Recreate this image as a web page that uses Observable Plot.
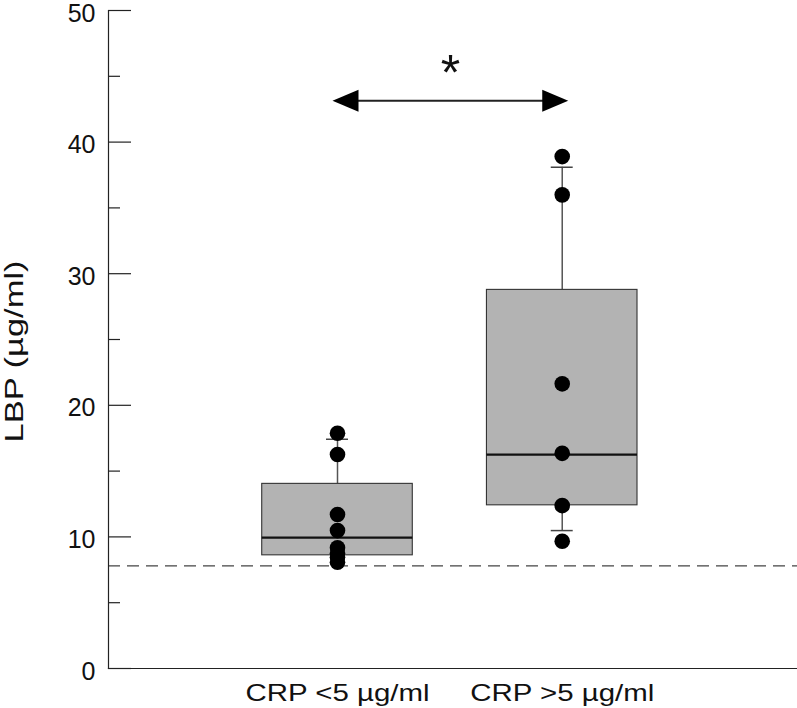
<!DOCTYPE html>
<html>
<head>
<meta charset="utf-8">
<script src="https://cdn.jsdelivr.net/npm/d3@7"></script>
<script src="https://cdn.jsdelivr.net/npm/@observablehq/plot@0.6"></script>
<style>
  html, body { margin: 0; padding: 0; background: #fff; }
  #chart svg { display: block; }
</style>
</head>
<body>
<div id="chart"></div>
<script>
// ---- data ----
const groups = ["CRP <5 µg/ml", "CRP >5 µg/ml"];
const q1 = [8.6, 12.4];
const medians = [9.95, 16.25];
const q3 = [14.03, 28.77];
const whiskerLow = [null, 10.48];
const whiskerHigh = [17.42, 38.09];
const valuesLow = [17.88, 16.26, 11.7, 10.48, 9.17, 8.76, 8.46, 8.08];
const valuesHigh = [38.9, 35.99, 21.63, 16.35, 12.38, 9.67];
const normalLimit = 7.8;
const significanceLevel = 43.15;
const starLevel = 45.15;
const starText = "*";
const yLabel = "LBP (µg/ml)";
const majorTicks = [0, 10, 20, 30, 40, 50];
const minorTicks = [5, 15, 25, 35, 45];

// ---- tables built from arrays ----
const boxes = groups.map((g, i) => ({group: g, q1: q1[i], median: medians[i], q3: q3[i], lo: whiskerLow[i], hi: whiskerHigh[i]}));
const points = [
  ...valuesLow.map(v => ({group: groups[0], value: v})),
  ...valuesHigh.map(v => ({group: groups[1], value: v}))
];
const comparison = [{from: groups[0], to: groups[1], level: significanceLevel}];

// arrowhead symbols (tip at origin)
const headRight = {draw(c) { c.moveTo(0, 0); c.lineTo(-26, -11); c.lineTo(-26, 11); c.closePath(); }};
const headLeft = {draw(c) { c.moveTo(0, 0); c.lineTo(26, -11); c.lineTo(26, 11); c.closePath(); }};

const W = 797, H = 708;
const mL = 108, mR = 0, mT = 10, mB = 40;
const plotW = W - mL - mR;

const chart = Plot.plot({
  width: W,
  height: H,
  marginLeft: mL,
  marginRight: mR,
  marginTop: mT,
  marginBottom: mB,
  style: {fontFamily: "'Liberation Sans', Arial, Helvetica, sans-serif", fontSize: "24px", color: "#111", background: "#fff", overflow: "visible"},
  x: {type: "band", domain: groups, paddingInner: 0.33, paddingOuter: 0.698, align: 0.49, round: false, axis: null},
  y: {domain: [0, 50], axis: null},
  marks: [
    // reference (dashed) line
    Plot.ruleY([normalLimit], {stroke: "#444", strokeWidth: 1.4, strokeDasharray: "12,7"}),
    // whiskers
    Plot.ruleX(boxes, {x: "group", y1: "q3", y2: "hi", stroke: "#555", strokeWidth: 1.5}),
    Plot.ruleX(boxes.filter(d => d.lo != null), {x: "group", y1: "lo", y2: "q1", stroke: "#555", strokeWidth: 1.5}),
    Plot.tickY(boxes, {x: "group", y: "hi", insetLeft: 64.3, insetRight: 64.3, stroke: "#444", strokeWidth: 1.5}),
    Plot.tickY(boxes.filter(d => d.lo != null), {x: "group", y: "lo", insetLeft: 64.3, insetRight: 64.3, stroke: "#444", strokeWidth: 1.5}),
    // boxes
    Plot.barY(boxes, {x: "group", y1: "q1", y2: "q3", fill: "#b3b3b3", stroke: "#333", strokeWidth: 1.1}),
    Plot.tickY(boxes, {x: "group", y: "median", stroke: "#111", strokeWidth: 2.2}),
    // individual values
    Plot.dot(points, {x: "group", y: "value", r: 7.8, fill: "#000", stroke: "none"}),
    // significance arrow
    Plot.link(comparison, {x1: "from", x2: "to", y1: "level", y2: "level", stroke: "#222", strokeWidth: 2}),
    Plot.dot(comparison, {x: "from", y: "level", symbol: headLeft, fill: "#000", stroke: "none", dx: -5}),
    Plot.dot(comparison, {x: "to", y: "level", symbol: headRight, fill: "#000", stroke: "none", dx: 6}),
    Plot.text([starText], {y: () => starLevel, text: d => d, fontSize: 50, dx: -2.5, fill: "#111"}),
    // axes
    Plot.ruleY(majorTicks, {insetRight: plotW - 23, stroke: "#222", strokeWidth: 1.2}),
    Plot.ruleY(minorTicks, {insetRight: plotW - 12, stroke: "#222", strokeWidth: 1.2}),
    Plot.axisY(majorTicks, {tickSize: 0, tickPadding: 13, fontSize: 25, dy: 3, label: null}),
    Plot.text([yLabel], {frameAnchor: "left", text: d => d, rotate: -90, dx: -103, dy: 12, lineAnchor: "top", textAnchor: "middle", fontSize: 25, fill: "#111"}),
    Plot.axisX({tickSize: 0, tickPadding: 15, fontSize: 24, label: null}),
    Plot.frame({anchor: "left", stroke: "#222", strokeWidth: 1.2}),
    Plot.frame({anchor: "bottom", stroke: "#222", strokeWidth: 1.2})
  ]
});
document.getElementById("chart").appendChild(chart);

// widen the labels to the reference's typeset widths
d3.select(chart).selectAll('g[aria-label="x-axis tick label"] text')
  .attr("textLength", 184).attr("lengthAdjust", "spacingAndGlyphs");
d3.select(chart).selectAll('g[aria-label="text"] text')
  .filter(function () { return this.textContent === yLabel; })
  .attr("textLength", 182).attr("lengthAdjust", "spacingAndGlyphs");
</script>
</body>
</html>
